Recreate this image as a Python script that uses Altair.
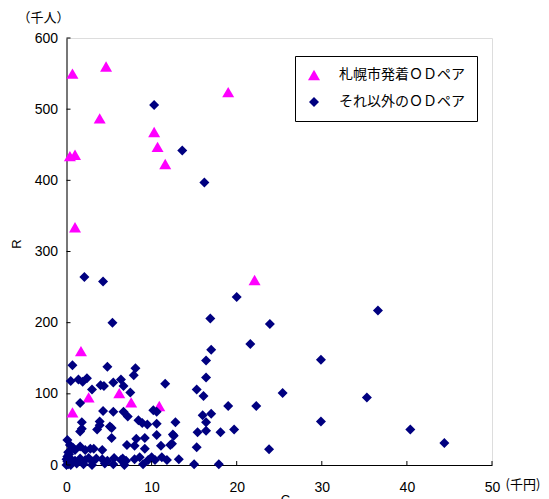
import altair as alt
import pandas as pd

# ---- data ----
series_names = ["札幌市発着ＯＤペア", "それ以外のＯＤペア"]
series_colors = ["#FF00FF", "#000080"]
series_shapes = ["triangle-up", "diamond"]

sapporo_c = [0.7, 4.65, 19.0, 3.9, 10.3, 10.7, 0.4, 1.0, 11.6, 1.0, 22.1,
             1.7, 2.6, 6.2, 7.6, 0.7, 10.9]
sapporo_r = [550, 560, 524, 487, 468, 447, 434, 436, 423, 334, 260,
             160, 95, 101, 88, 74, 83]

other_c = [10.3, 13.6, 16.2, 2.1, 4.3, 5.4, 16.9, 20.0, 23.9, 36.6, 21.6, 17.0,
           16.4, 29.9, 16.4, 25.4, 16.1, 35.3, 19.0, 22.3, 16.0, 17.0, 16.4, 29.9,
           15.4, 16.4, 18.1, 19.7, 40.4, 44.4, 23.8, 17.9, 11.6, 15.3, 15.0, 15.3,
           13.2, 12.5, 12.4, 12.2,
           0.7, 4.8, 8.1, 7.9, 0.5, 1.4, 1.9, 2.4, 3.0, 4.0, 4.4, 5.5, 6.4, 6.7,
           7.5, 1.6, 4.3, 5.5, 6.7, 7.2, 8.45, 8.9, 9.5, 10.2, 10.6, 10.6, 12.8,
           1.8, 3.9, 3.9, 3.6, 5.3, 5.1, 1.6, 1.8, 5.3, 8.2, 9.2, 10.6, 12.6, 7.1,
           9.2, 11.1, 8.0,
           0.4, 0.8, 1.0, 1.6, 2.2, 2.8, 3.2, 4.2,
           0.0, 0.4, 1.0, 1.6, 2.2, 2.6, 3.1, 3.5, 4.2, 4.8, 5.6, 6.4, 6.6, 7.0, 8.0,
           8.6, 9.0, 9.6, 10.0, 10.4, 11.2, 11.8,
           0.0, 0.2, 0.5, 1.2, 2.0, 3.0, 4.5, 5.5, 6.8,
           0.1, 0.1, 0.2, 0.1, 0.3]
other_r = [506, 442, 397, 264, 258, 200, 206, 236, 198, 217, 170, 162,
           147, 148, 123, 101, 97, 95, 83, 83, 70, 72, 60, 61,
           46, 48, 46, 50, 50, 31, 22, 1, 114, 106, 1, 25,
           8, 43, 30, 28,
           140, 138, 136, 126, 118, 120, 117, 122, 106, 112, 111, 116, 120, 111,
           102, 87, 76, 75, 75, 68, 63, 59, 57, 77, 75, 58, 60,
           60, 61, 56, 50, 52, 54, 47, 51, 38, 37, 38, 42, 41, 28,
           23, 27, 27,
           28, 24, 21, 26, 21, 23, 23, 21,
           8, 10, 6, 9, 7, 10, 5, 9, 8, 6, 10, 7, 9, 6, 8,
           11, 1, 7, 11, 7, 11, 7,
           0, 1, 0, 2, 1, 0, 2, 1, 0,
           5, 12, 18, 35, 15]

x_ticks = [0, 10, 20, 30, 40, 50]
y_ticks = [0, 100, 200, 300, 400, 500, 600]

# ---- table ----
df = pd.concat([
    pd.DataFrame({"C": sapporo_c, "R": sapporo_r, "type": series_names[0]}),
    pd.DataFrame({"C": other_c, "R": other_r, "type": series_names[1]}),
], ignore_index=True)
df["order"] = range(len(df))

W, H = 425.5, 427
LABEL_FONT = "Liberation Sans"
CJK_FONT = "Noto Sans CJK JP"

xscale = alt.Scale(domain=[0, 50], nice=False, zero=True)
yscale = alt.Scale(domain=[0, 600], nice=False, zero=True)

x_axis = alt.Axis(values=x_ticks, title="C", grid=False, ticks=False,
                  domainColor="black", domainWidth=1,
                  labelFont=LABEL_FONT, labelFontSize=14, labelColor="black",
                  labelPadding=15, labelFlush=False,
                  titleFont=LABEL_FONT, titleFontSize=13, titleFontWeight="normal",
                  titleColor="black",
                  titleX=218.5, titleY=28, titleAnchor="middle",
                  titleBaseline="top")
y_axis = alt.Axis(values=y_ticks, title="R", grid=False, ticks=False,
                  domainColor="black", domainWidth=1,
                  labelFont=LABEL_FONT, labelFontSize=14, labelColor="black",
                  labelPadding=9, labelFlush=False,
                  titleFont=LABEL_FONT, titleFontSize=13, titleFontWeight="normal",
                  titleColor="black",
                  titleX=-50, titleY=205.5, titleAngle=270,
                  titleAlign="center", titleBaseline="middle")

points = alt.Chart(df).mark_point(filled=True, opacity=1, strokeWidth=0).encode(
    x=alt.X("C:Q", scale=xscale, axis=x_axis),
    y=alt.Y("R:Q", scale=yscale, axis=y_axis),
    color=alt.Color("type:N", scale=alt.Scale(domain=series_names, range=series_colors),
                    legend=alt.Legend(title=None, orient="none", legendX=228.5, legendY=18,
                                      strokeColor="black", fillColor="white",
                                      padding=12, rowPadding=13, symbolSize=130,
                                      labelFont=CJK_FONT, labelFontSize=14,
                                      labelColor="black", labelOffset=18,
                                      cornerRadius=0, symbolStrokeWidth=0)),
    shape=alt.Shape("type:N", scale=alt.Scale(domain=series_names, range=series_shapes),
                    legend=alt.Legend(title=None, orient="none", legendX=228.5, legendY=18)),
    size=alt.Size("type:N", scale=alt.Scale(domain=series_names, range=[144, 100]),
                  legend=None),
    order=alt.Order("order:Q"),
)

ytick_df = pd.DataFrame({"R": y_ticks})
xtick_df = pd.DataFrame({"C": x_ticks})

yticks = alt.Chart(ytick_df).mark_rule(color="black", strokeWidth=1).encode(
    y=alt.Y("R:Q", scale=yscale, axis=y_axis),
    x=alt.value(0), x2=alt.value(4),
)
xticks = alt.Chart(xtick_df).mark_rule(color="black", strokeWidth=1).encode(
    x=alt.X("C:Q", scale=xscale, axis=x_axis),
    y=alt.value(H), y2=alt.value(H - 4),
)

unit_df = pd.DataFrame({"t": ["（千人）", "(千円)"]})
unit_y = alt.Chart(unit_df.iloc[[0]]).mark_text(
    font=CJK_FONT, fontSize=13, align="center", baseline="middle", color="black"
).encode(text="t:N", x=alt.value(-23), y=alt.value(-20))
unit_x = alt.Chart(unit_df.iloc[[1]]).mark_text(
    font=CJK_FONT, fontSize=13, align="left", baseline="middle", color="black"
).encode(text="t:N", x=alt.value(439), y=alt.value(20 + H))

chart = alt.layer(points, yticks, xticks, unit_y, unit_x).properties(
    width=W, height=H,
    autosize=alt.AutoSizeParams(type="none"),
    padding={"left": 58.5, "top": 30, "right": 49, "bottom": 34},
).configure_view(
    stroke="#A0A0A0", strokeWidth=1
).configure(
    background="white"
)

chart.save("out.html", embed_options={"renderer": "svg", "actions": False})
